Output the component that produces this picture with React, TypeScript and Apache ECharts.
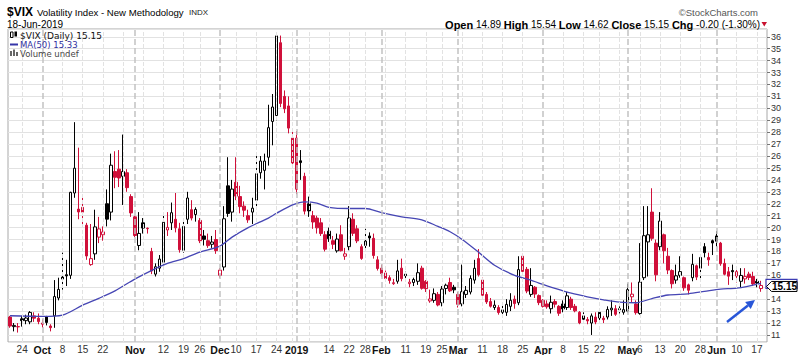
import React, { useEffect, useRef } from "react";
import * as echarts from "echarts";

// Trading days per month (categories)
const monthDays: [string, number[]][] = [
  ["2018-09", [19, 20, 21, 24, 25, 26, 27, 28]],
  ["2018-10", [1, 2, 3, 4, 5, 8, 9, 10, 11, 12, 15, 16, 17, 18, 19, 22, 23, 24, 25, 26, 29, 30, 31]],
  ["2018-11", [1, 2, 5, 6, 7, 8, 9, 12, 13, 14, 15, 16, 19, 20, 21, 23, 26, 27, 28, 29, 30]],
  ["2018-12", [3, 4, 6, 7, 10, 11, 12, 13, 14, 17, 18, 19, 20, 21, 24, 26, 27, 28, 31]],
  ["2019-01", [2, 3, 4, 7, 8, 9, 10, 11, 14, 15, 16, 17, 18, 22, 23, 24, 25, 28, 29, 30, 31]],
  ["2019-02", [1, 4, 5, 6, 7, 8, 11, 12, 13, 14, 15, 19, 20, 21, 22, 25, 26, 27, 28]],
  ["2019-03", [1, 4, 5, 6, 7, 8, 11, 12, 13, 14, 15, 18, 19, 20, 21, 22, 25, 26, 27, 28, 29]],
  ["2019-04", [1, 2, 3, 4, 5, 8, 9, 10, 11, 12, 15, 16, 17, 18, 22, 23, 24, 25, 26, 29, 30]],
  ["2019-05", [1, 2, 3, 6, 7, 8, 9, 10, 13, 14, 15, 16, 17, 20, 21, 22, 23, 24, 28, 29, 30, 31]],
  ["2019-06", [3, 4, 5, 6, 7, 10, 11, 12, 13, 14, 17, 18]],
];
const dates: string[] = monthDays.flatMap(([m, ds]) => ds.map((d) => `${m}-${String(d).padStart(2, "0")}`));

const opens = [
  12.5, 11.7, 11.7, 12.35, 12.2, 12.1, 12.6, 12.4, 11.9, 12.5,
  11.75, 12.6, 14.1, 15.85, 16.05, 16.0, 22.9, 21.55, 21.7, 20.2,
  16.9, 17.8, 19.2, 19.4, 22.0, 21.3, 24.7, 24.9, 24.3, 24.6,
  22.6, 20.9, 18.5, 20.4, 19.95, 18.0, 16.1, 16.6, 17.1, 19.8,
  20.4, 20.7, 19.9, 18.1, 20.7, 21.5, 21.1, 20.6, 19.3, 18.9,
  18.6, 19.0, 16.0, 16.7, 23.5, 21.3, 23.8, 22.6, 21.8, 21.0,
  21.3, 22.3, 24.6, 24.8, 25.9, 28.9, 29.4, 35.5, 31.0, 30.2,
  27.5, 27.5, 25.6, 24.3, 22.0, 21.0, 20.8, 20.4, 19.4, 19.7,
  18.9, 18.05, 19.4, 17.6, 18.4, 20.7, 19.9, 18.4, 18.5, 19.3,
  19.1, 17.3, 16.6, 16.2, 15.8, 15.3, 15.5, 16.6, 16.1, 15.3,
  15.4, 15.5, 16.6, 15.5, 13.85, 13.9, 14.4, 13.7, 14.9, 15.4,
  15.0, 14.4, 13.6, 14.4, 14.6, 15.6, 17.4, 15.6, 14.4, 13.8,
  13.3, 13.3, 12.9, 12.9, 13.4, 14.0, 13.7, 17.6, 16.5, 14.4,
  15.0, 14.3, 13.9, 13.6, 13.2, 13.8, 13.4, 13.6, 13.3, 14.0,
  13.4, 12.9, 12.6, 12.3, 12.0, 12.5, 12.9, 12.4, 12.5, 13.1,
  13.2, 13.2, 12.9, 13.0, 14.2, 13.6, 12.8, 15.8, 18.8, 21.3,
  18.7, 18.4, 19.4, 17.6, 16.4, 15.6, 16.0, 15.8, 15.2, 15.8,
  16.8, 16.6, 18.4, 17.5, 18.9, 19.3, 18.7, 17.0, 16.3, 16.4,
  16.3, 15.5, 15.7, 16.1, 15.9, 15.5, 14.89,
];
const highs = [
  12.6, 12.0, 12.0, 12.6, 12.7, 13.0, 12.9, 12.8, 12.3, 12.6,
  11.9, 15.6, 15.8, 17.9, 17.3, 23.0, 28.84, 26.7, 22.5, 20.4,
  20.3, 21.5, 20.9, 20.1, 23.2, 26.2, 26.4, 26.5, 27.8, 24.9,
  22.8, 21.0, 21.3, 20.8, 20.0, 18.3, 17.0, 17.7, 21.2, 21.3,
  22.1, 22.9, 20.4, 20.7, 23.0, 22.3, 21.7, 20.8, 19.8, 19.5,
  19.3, 19.8, 16.6, 21.8, 25.9, 24.0, 25.9, 23.5, 22.2, 21.5,
  22.5, 26.0, 26.0, 26.2, 30.3, 31.2, 36.2, 36.1, 31.5, 31.0,
  28.3, 28.1, 26.5, 24.6, 22.6, 21.4, 21.0, 20.8, 19.7, 20.0,
  19.3, 19.5, 20.2, 18.3, 21.8, 21.2, 20.2, 18.6, 19.9, 19.6,
  19.5, 17.6, 16.9, 16.4, 16.0, 15.7, 17.3, 17.4, 16.3, 15.7,
  15.8, 17.0, 16.8, 15.6, 14.8, 14.9, 14.6, 15.1, 15.3, 15.8,
  15.2, 14.6, 16.9, 15.1, 16.0, 17.3, 18.2, 15.8, 14.6, 14.1,
  13.9, 13.5, 13.5, 14.0, 14.5, 14.3, 17.6, 17.8, 16.7, 16.6,
  15.1, 14.4, 14.0, 13.9, 14.3, 14.0, 13.5, 13.9, 14.6, 14.2,
  13.6, 13.0, 12.9, 12.5, 12.8, 12.9, 13.1, 12.6, 13.4, 13.9,
  13.5, 13.4, 13.9, 15.3, 15.4, 13.9, 18.7, 21.8, 21.8, 23.3,
  19.0, 21.3, 19.5, 18.3, 16.5, 16.9, 17.6, 15.9, 15.3, 17.8,
  16.9, 17.6, 18.7, 17.9, 19.0, 19.7, 18.8, 17.4, 16.7, 16.9,
  16.5, 16.6, 16.6, 16.3, 16.3, 15.7, 15.54,
];
const lows = [
  11.6, 11.3, 11.2, 11.7, 11.9, 11.9, 12.1, 11.9, 11.6, 11.8,
  11.3, 11.6, 13.9, 14.8, 15.1, 15.7, 22.5, 20.7, 20.2, 17.3,
  16.8, 17.3, 18.7, 18.9, 20.1, 20.6, 23.3, 23.4, 21.9, 23.0,
  20.9, 19.2, 18.1, 19.5, 19.5, 16.1, 15.9, 16.3, 16.9, 19.3,
  19.8, 19.6, 17.9, 17.9, 20.3, 20.6, 20.5, 18.7, 18.5, 18.3,
  18.3, 17.8, 15.8, 16.4, 20.9, 20.5, 22.3, 21.2, 20.9, 20.4,
  20.3, 21.7, 24.1, 23.2, 25.2, 26.9, 29.0, 30.1, 29.6, 27.9,
  25.3, 22.8, 24.0, 21.1, 20.9, 19.9, 19.5, 19.3, 18.0, 18.8,
  18.2, 17.9, 18.0, 17.3, 18.1, 19.3, 18.7, 17.3, 18.2, 18.4,
  17.4, 16.4, 15.9, 15.6, 15.3, 15.2, 15.3, 15.5, 15.5, 15.0,
  15.1, 15.2, 14.8, 14.6, 13.7, 13.7, 13.4, 13.4, 14.4, 14.6,
  14.5, 13.3, 13.4, 14.1, 14.4, 15.3, 15.9, 14.3, 13.6, 13.3,
  13.1, 12.7, 12.6, 12.6, 13.0, 13.2, 13.5, 16.1, 14.5, 14.2,
  14.1, 13.5, 13.3, 13.2, 12.8, 13.3, 12.6, 12.9, 13.1, 13.1,
  12.9, 11.9, 12.0, 11.9, 11.0, 11.9, 12.1, 12.0, 12.3, 12.6,
  12.6, 12.8, 12.7, 12.9, 13.7, 12.7, 12.7, 15.6, 15.9, 18.9,
  15.5, 18.1, 17.0, 16.1, 14.9, 15.3, 15.8, 14.7, 14.4, 15.5,
  15.6, 15.6, 17.5, 16.8, 17.7, 18.4, 16.8, 16.0, 15.2, 15.6,
  15.4, 15.0, 15.3, 15.6, 15.1, 15.0, 14.62,
];
const closes = [
  11.75, 11.8, 11.68, 12.2, 12.42, 12.89, 12.41, 12.12, 12.0, 12.05,
  11.61, 14.22, 14.82, 15.69, 15.95, 22.96, 24.98, 21.31, 21.30, 17.62,
  17.40, 20.06, 19.89, 19.64, 20.71, 25.23, 24.22, 24.16, 24.70, 23.35,
  21.23, 19.34, 19.51, 19.96, 19.91, 16.36, 16.72, 17.36, 20.45, 20.02,
  21.25, 19.98, 18.14, 20.10, 22.48, 20.80, 21.52, 18.90, 19.02, 18.49,
  18.79, 18.07, 16.44, 20.74, 21.19, 23.23, 22.64, 21.76, 21.46, 20.65,
  21.63, 24.52, 25.58, 25.58, 28.38, 30.11, 36.07, 30.41, 29.96, 28.34,
  25.42, 23.22, 25.45, 21.38, 21.40, 20.47, 19.98, 19.50, 18.19, 19.07,
  18.60, 19.04, 18.06, 17.80, 20.80, 19.52, 18.89, 17.42, 18.87, 19.13,
  17.66, 16.57, 16.14, 15.73, 15.57, 15.38, 16.37, 15.72, 15.97, 15.43,
  15.65, 16.22, 14.91, 14.88, 14.02, 14.46, 13.51, 14.85, 15.17, 14.70,
  14.78, 13.57, 14.63, 14.74, 15.74, 16.59, 16.05, 14.33, 13.77, 13.41,
  13.50, 12.88, 13.10, 13.56, 13.91, 13.63, 16.48, 16.33, 14.68, 15.15,
  14.43, 13.71, 13.40, 13.36, 13.74, 13.58, 12.82, 13.18, 14.28, 13.30,
  13.02, 12.01, 12.32, 12.18, 12.60, 12.09, 12.42, 12.28, 13.14, 13.25,
  12.73, 13.11, 13.12, 14.80, 14.42, 12.87, 15.44, 19.32, 19.40, 19.10,
  16.04, 20.55, 18.06, 16.44, 15.29, 15.96, 16.31, 14.95, 14.75, 16.92,
  15.85, 17.50, 17.90, 17.30, 18.71, 18.86, 16.97, 16.09, 15.93, 16.30,
  15.94, 15.99, 15.91, 15.82, 15.28, 15.35, 15.15,
];

// MA(50): [trading-day index, value]
const maPoints: [number, number][] = [
  [0, 12.61], [8, 12.55], [13, 12.67], [18, 13.5], [22, 14.07], [26, 14.7], [31, 15.7],
  [35, 16.4], [39, 17.0], [43, 17.4], [47, 17.95], [52, 18.45], [55, 19.2], [59, 20.0],
  [64, 20.8], [66, 21.2], [70, 21.9], [73, 22.15], [76, 22.05], [79, 21.7], [84, 21.6],
  [88, 21.6], [92, 21.25], [97, 20.9], [102, 20.65], [106, 20.1], [109, 19.65], [112, 19.0],
  [116, 17.95], [120, 16.85], [125, 16.0], [129, 15.6], [131, 15.35], [135, 14.9],
  [139, 14.5], [143, 14.2], [147, 13.95], [151, 13.75], [155, 13.7], [159, 14.05],
  [163, 14.35], [168, 14.45], [172, 14.65], [176, 14.85], [180, 14.92], [186, 15.33],
];

const xTickLabels: [string, string][] = [
  ["2018-09-24", "24"], ["2018-10-01", "Oct"], ["2018-10-08", "8"], ["2018-10-15", "15"],
  ["2018-10-22", "22"], ["2018-11-01", "Nov"], ["2018-11-12", "12"], ["2018-11-19", "19"],
  ["2018-11-26", "26"], ["2018-12-03", "Dec"], ["2018-12-10", "10"], ["2018-12-17", "17"],
  ["2018-12-24", "24"], ["2019-01-02", "2019"], ["2019-01-14", "14"], ["2019-01-22", "22"],
  ["2019-01-28", "28"], ["2019-02-01", "Feb"], ["2019-02-11", "11"], ["2019-02-19", "19"],
  ["2019-02-25", "25"], ["2019-03-01", "Mar"], ["2019-03-11", "11"], ["2019-03-18", "18"],
  ["2019-03-25", "25"], ["2019-04-01", "Apr"], ["2019-04-08", "8"], ["2019-04-15", "15"],
  ["2019-04-22", "22"], ["2019-05-01", "May"], ["2019-05-06", "6"], ["2019-05-13", "13"],
  ["2019-05-20", "20"], ["2019-05-28", "28"], ["2019-06-03", "Jun"], ["2019-06-10", "10"],
  ["2019-06-17", "17"],
];

const RED = "#d0103a";
const BLK = "#000000";
const FONT = "Liberation Sans, Arial, sans-serif";

export default function App() {
  const ref = useRef<HTMLDivElement>(null);
  useEffect(() => {
    const el = ref.current!;
    const chart = echarts.init(el, null, { renderer: "svg" });

    const tickMap = new Map(xTickLabels);
    const cats = [...dates, ""];
    const last = closes.length - 1;
    const lastC = closes[last];

    const candleData = dates.map((_, i) => {
      const o = opens[i], c = closes[i], l = lows[i], h = highs[i];
      const prev = i > 0 ? closes[i - 1] : o;
      const col = c >= prev ? BLK : RED;
      const fill = c > o ? "#ffffff" : col;
      return {
        value: [o, c, l, h],
        itemStyle: { color: fill, color0: fill, borderColor: col, borderColor0: col, borderWidth: 1 },
      };
    });

    const vLines: any[] = [];
    for (let i = 1; i < dates.length; i++) {
      const d = new Date(dates[i] + "T12:00:00Z");
      const p = new Date(dates[i - 1] + "T12:00:00Z");
      const monthStart = d.getUTCMonth() !== p.getUTCMonth();
      const weekStart = d.getUTCDay() < p.getUTCDay() || (d.getTime() - p.getTime()) / 86400000 >= 7;
      if (monthStart) vLines.push({ xAxis: dates[i], lineStyle: { color: "#c2c2c2", width: 1.5 } });
      else if (weekStart) vLines.push({ xAxis: dates[i], lineStyle: { color: "#e2e2e2", width: 1 } });
    }

    chart.setOption({
      animation: false,
      backgroundColor: "#ffffff",
      textStyle: { fontFamily: FONT },
      grid: { left: 8, right: 33, top: 29, bottom: 13, show: true, borderColor: "#a8a8a8", borderWidth: 1 },
      xAxis: {
        type: "category",
        data: cats,
        boundaryGap: true,
        axisLine: { show: false },
        axisTick: { show: false },
        splitLine: { show: false },
        axisLabel: {
          interval: (_i: number, v: string) => tickMap.has(v),
          formatter: (v: string) => {
            const t = tickMap.get(v) || "";
            return /^\d{1,2}$/.test(t) ? `{d|${t}}` : `{m|${t}}`;
          },
          margin: 2,
          rich: {
            d: { fontSize: 10, color: "#333", fontFamily: FONT },
            m: { fontSize: 10.5, fontWeight: "bold", color: "#111", fontFamily: FONT },
          },
        },
      },
      yAxis: {
        type: "value",
        position: "right",
        min: 10.41,
        max: 36.65,
        splitNumber: 26,
        minInterval: 1,
        maxInterval: 1,
        axisLine: { show: false },
        axisTick: { show: true, length: 3, lineStyle: { color: "#777" } },
        axisLabel: {
          fontSize: 9,
          color: "#333",
          margin: 4,
          showMinLabel: false,
          showMaxLabel: false,
          fontFamily: FONT,
          // the label under the last-price box is hidden, as in the original
          formatter: (v: number) => (Math.abs(v - lastC) < 0.6 ? "" : String(v)),
        },
        splitLine: { show: true, lineStyle: { color: "#e2e2e2", width: 1 } },
      },
      series: [
        {
          type: "line",
          data: dates.map(() => null),
          z: 1,
          silent: true,
          showSymbol: false,
          markLine: {
            silent: true,
            symbol: ["none", "none"],
            label: { show: false },
            animation: false,
            data: vLines,
          },
        },
        {
          type: "candlestick",
          data: candleData,
          barWidth: 3,
          z: 3,
        },
        {
          type: "line",
          data: maPoints,
          symbol: "none",
          smooth: 0.3,
          lineStyle: { color: "#4646b4", width: 1.3 },
          z: 4,
          silent: true,
        },
      ],
    });

    const lastMA = maPoints[maPoints.length - 1][1];
    const chg = lastC - closes[last - 1];
    const pct = (chg / closes[last - 1]) * 100;
    const yC = chart.convertToPixel({ yAxisIndex: 0 }, lastC) as number;
    const yM = chart.convertToPixel({ yAxisIndex: 0 }, lastMA) as number;

    const tx = (x: number, y: number, text: string, extra: any = {}) => ({
      type: "text",
      x,
      y,
      style: { text, fill: "#000", fontSize: 10, fontFamily: FONT, verticalAlign: "middle", ...extra },
      z: 50,
    });

    // arrow geometry (annotation)
    const ax0 = 727, ay0 = 322, ax1 = 755, ay1 = 300;
    const len = Math.hypot(ax1 - ax0, ay1 - ay0);
    const ux = (ax1 - ax0) / len, uy = (ay1 - ay0) / len;
    const bx = ax1 - 9 * ux, by = ay1 - 9 * uy;

    chart.setOption({
      graphic: [
        tx(7, 12, "$VIX", { fontSize: 12, fontWeight: "bold" }),
        tx(37, 12.5, "Volatility Index - New Methodology", { fontSize: 9.6 }),
        tx(189, 12.5, "INDX", { fontSize: 8, fill: "#222" }),
        tx(7, 24, "18-Jun-2019", { fontSize: 10 }),
        tx(758, 12, "©StockCharts.com", { fontSize: 9.5, fill: "#555", align: "right" }),
        tx(760, 24.5,
          `{b|Open} ${opens[last].toFixed(2)} {b|High} ${highs[last].toFixed(2)} {b|Low} ${lows[last].toFixed(2)} {b|Close} ${lastC.toFixed(2)} {b|Chg} ${chg.toFixed(2)} (${pct.toFixed(2)}%)`,
          { align: "right", fontSize: 10, rich: { b: { fontWeight: "bold", fontSize: 11, fontFamily: FONT } } }),
        { type: "polygon", shape: { points: [[761.5, 22], [767, 22], [764.25, 26.5]] }, style: { fill: "#c8102e" }, z: 50 },
        // legend inside plot
        { type: "rect", shape: { x: 10.5, y: 32, width: 2.5, height: 5.5 }, style: { fill: "#fff", stroke: "#000", lineWidth: 1 }, z: 50 },
        { type: "rect", shape: { x: 14.5, y: 31.5, width: 2.5, height: 5 }, style: { fill: "#000" }, z: 50 },
        tx(20, 35.5, `$VIX (Daily) ${lastC.toFixed(2)}`, { fontSize: 9, fontFamily: "DejaVu Sans", fill: "#111" }),
        { type: "line", shape: { x1: 10, y1: 44.5, x2: 18, y2: 44.5 }, style: { stroke: "#3535a8", lineWidth: 2 }, z: 50 },
        tx(20, 44.5, `MA(50) ${lastMA.toFixed(2)}`, { fontSize: 8.5, fontFamily: "DejaVu Sans", fill: "#3030a0" }),
        { type: "rect", shape: { x: 10, y: 51, width: 2, height: 5 }, style: { fill: "#666" }, z: 50 },
        { type: "rect", shape: { x: 13, y: 49.5, width: 2, height: 6.5 }, style: { fill: "#666" }, z: 50 },
        { type: "rect", shape: { x: 16, y: 52, width: 2, height: 4 }, style: { fill: "#666" }, z: 50 },
        tx(20, 53.5, "Volume undef", { fontSize: 8.5, fontFamily: "DejaVu Sans", fill: "#444" }),
        // MA value box (partly hidden) and price box
        { type: "rect", shape: { x: 766, y: yM - 4, width: 31, height: 9 }, style: { fill: "#fff", stroke: "#3c3cb4", lineWidth: 1.2 }, z: 40 },
        {
          type: "polygon",
          shape: { points: [[766.5, yC + 1], [771.5, yC - 4], [797, yC - 4], [797, yC + 6], [771.5, yC + 6]] },
          style: { fill: "#fff", stroke: "#000", lineWidth: 1 },
          z: 41,
        },
        tx(784.5, yC + 1.2, lastC.toFixed(2), { fontSize: 10, fontWeight: "bold", align: "center" }),
        // blue arrow annotation
        { type: "line", shape: { x1: ax0, y1: ay0, x2: bx, y2: by }, style: { stroke: "#2856d8", lineWidth: 2.5 }, z: 45 },
        {
          type: "polygon",
          shape: { points: [[ax1, ay1], [bx + 4.5 * -uy, by + 4.5 * ux], [bx - 4.5 * -uy, by - 4.5 * ux]] },
          style: { fill: "#2856d8" },
          z: 45,
        },
      ],
    });

    return () => chart.dispose();
  }, []);
  return (
    <div
      ref={ref}
      style={{ position: "fixed", left: 0, top: 0, width: 800, height: 355, background: "#fff" }}
    />
  );
}
